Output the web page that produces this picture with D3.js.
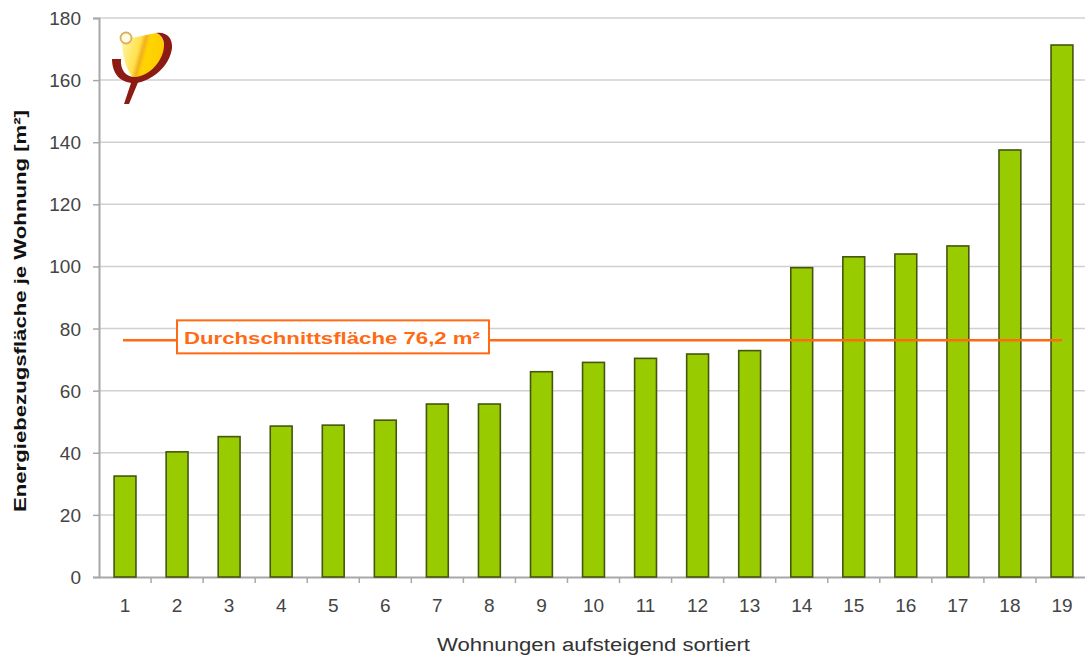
<!DOCTYPE html>
<html>
<head>
<meta charset="utf-8">
<script src="https://cdn.jsdelivr.net/npm/d3@7"></script>
<style>
html,body{margin:0;padding:0;background:#fff;}
svg{display:block;font-family:"Liberation Sans",Arial,sans-serif;}
</style>
</head>
<body>
<svg id="chart" width="1085" height="658"></svg>
<script>
const categories = ["1","2","3","4","5","6","7","8","9","10","11","12","13","14","15","16","17","18","19"];
const values = [32.5,40.3,45.2,48.6,48.9,50.5,55.7,55.7,66.1,69.1,70.4,71.8,72.9,99.6,103.1,104.0,106.6,137.5,171.3];
const yTicks = [0,20,40,60,80,100,120,140,160,180];
const averageValue = 76.2;
const averageLabel = "Durchschnittsfläche 76,2 m²";
const xTitle = "Wohnungen aufsteigend sortiert";
const yTitle = "Energiebezugsfläche je Wohnung [m²]";

const svg = d3.select("#chart");
const pLeft = 99, pRight = 1088, pTop = 18, pBottom = 577;

const x = d3.scaleBand().domain(categories).range([pLeft, pRight]).paddingInner(0.58).paddingOuter(0.29);
const xOuter = d3.scaleBand().domain(categories).range([pLeft, pRight]);
const y = d3.scaleLinear().domain([0, 180]).range([pBottom, pTop]);

// gridlines
svg.append("g").selectAll("line").data(yTicks.filter(d => d > 0)).join("line")
  .attr("x1", pLeft).attr("x2", 1085)
  .attr("y1", d => y(d)).attr("y2", d => y(d))
  .attr("stroke", "#d0d0d0").attr("stroke-width", 1.5);

// y axis
const yAxis = svg.append("g").attr("transform", `translate(${pLeft},0)`)
  .call(d3.axisLeft(y).tickValues(yTicks).tickSize(6).tickPadding(12));
yAxis.select(".domain").attr("stroke", "#a8a8a8").attr("stroke-width", 2);
yAxis.selectAll(".tick line").attr("stroke", "#a8a8a8").attr("stroke-width", 1.5);
yAxis.selectAll(".tick text").attr("fill", "#444").style("font-size", "19px").attr("dy", "0.34em");

// x axis
const xAxis = svg.append("g").attr("transform", `translate(0,${pBottom})`)
  .call(d3.axisBottom(xOuter).tickSize(0).tickPadding(22));
xAxis.select(".domain").attr("stroke", "#a8a8a8").attr("stroke-width", 2);
xAxis.selectAll(".tick text").attr("fill", "#444").style("font-size", "19px");
// boundary ticks between categories
svg.append("g").selectAll("line").data(categories).join("line")
  .attr("x1", d => xOuter(d) + xOuter.bandwidth()).attr("x2", d => xOuter(d) + xOuter.bandwidth())
  .attr("y1", pBottom).attr("y2", pBottom + 6)
  .attr("stroke", "#a8a8a8").attr("stroke-width", 1.5);

// bars
svg.append("g").selectAll("rect").data(values).join("rect")
  .attr("x", (d, i) => x(categories[i]))
  .attr("width", x.bandwidth())
  .attr("y", d => y(d))
  .attr("height", d => pBottom - y(d))
  .attr("fill", "#99cc00")
  .attr("stroke", "#44560f").attr("stroke-width", 1.6);

// average line
const cx0 = xOuter(categories[0]) + xOuter.bandwidth() / 2;
const cx1 = xOuter(categories[categories.length - 1]) + xOuter.bandwidth() / 2;
svg.append("line")
  .attr("x1", cx0 - 2).attr("x2", cx1)
  .attr("y1", y(averageValue)).attr("y2", y(averageValue))
  .attr("stroke", "#ff6a13").attr("stroke-width", 2.5);

// label box
const lbl = svg.append("g");
lbl.append("rect")
  .attr("x", 177).attr("y", y(averageValue) - 20).attr("width", 312).attr("height", 33)
  .attr("fill", "#fff").attr("stroke", "#ff6a13").attr("stroke-width", 2);
lbl.append("text")
  .attr("x", 184).attr("y", y(averageValue) + 4)
  .attr("fill", "#ff6a13").style("font-size", "17px").style("font-weight", "bold")
  .attr("textLength", 296).attr("lengthAdjust", "spacingAndGlyphs")
  .text(averageLabel);

// axis titles
svg.append("text")
  .attr("x", 437).attr("y", 651)
  .attr("fill", "#333").style("font-size", "18px")
  .attr("textLength", 313).attr("lengthAdjust", "spacingAndGlyphs")
  .text(xTitle);
svg.append("text")
  .attr("transform", "translate(26,512) rotate(-90)")
  .attr("fill", "#111").style("font-size", "17px").style("font-weight", "bold")
  .attr("textLength", 402).attr("lengthAdjust", "spacingAndGlyphs")
  .text(yTitle);

// logo
const logo = svg.append("g");
const grad = svg.append("defs").append("linearGradient").attr("id", "lg")
  .attr("x1", "0").attr("y1", "0").attr("x2", "1").attr("y2", "0.3");
grad.append("stop").attr("offset", "0").attr("stop-color", "#fff7b0");
grad.append("stop").attr("offset", "0.45").attr("stop-color", "#ffe14a");
grad.append("stop").attr("offset", "0.55").attr("stop-color", "#f2b020");
grad.append("stop").attr("offset", "0.65").attr("stop-color", "#ffd400");
grad.append("stop").attr("offset", "1").attr("stop-color", "#ffcc00");
logo.append("path")
  .attr("d", "M122,40 L156,33 C166,36 166,52 160,63 C154,73 145,78 134,79 C126,70 122,56 122,40 Z")
  .attr("fill", "url(#lg)");
logo.append("path")
  .attr("d", "M112,59 L121,59 C120,70 126,77 135,77 C150,76 164,60 164,45 C164,38 160,34 156,33 C166,31 173,38 172,48 C170,66 152,81 136,83 C121,84 112,74 112,59 Z")
  .attr("fill", "#8c1c13");
logo.append("path")
  .attr("d", "M132,80 L139,80 L129,104 L124,104 Z")
  .attr("fill", "#8c1c13");
logo.append("circle").attr("cx", 126).attr("cy", 38).attr("r", 5.5)
  .attr("fill", "#fffbe0").attr("stroke", "#d8b060").attr("stroke-width", 1.8);
</script>
</body>
</html>
